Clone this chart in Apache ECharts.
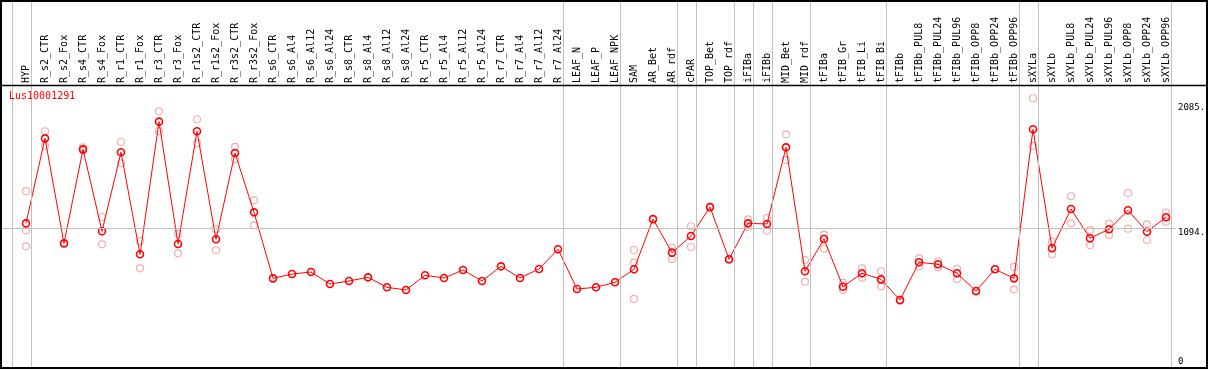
<!DOCTYPE html>
<html><head><meta charset="utf-8">
<script src="https://cdn.jsdelivr.net/npm/echarts@6.0.0/dist/echarts.min.js"></script>
<style>html,body{margin:0;padding:0;background:#fff}#c{width:1209px;height:370px}</style>
</head><body><div id="c"></div>
<script>
const chartTitle = 'Lus10001291';
const categories = ['HYP','R_s2_CTR','R_s2_Fox','R_s4_CTR','R_s4_Fox','R_r1_CTR','R_r1_Fox','R_r3_CTR','R_r3_Fox','R_r1s2_CTR','R_r1s2_Fox','R_r3s2_CTR','R_r3s2_Fox','R_s6_CTR','R_s6_Al4','R_s6_Al12','R_s6_Al24','R_s8_CTR','R_s8_Al4','R_s8_Al12','R_s8_Al24','R_r5_CTR','R_r5_Al4','R_r5_Al12','R_r5_Al24','R_r7_CTR','R_r7_Al4','R_r7_Al12','R_r7_Al24','LEAF_N','LEAF_P','LEAF_NPK','SAM','AR_Bet','AR_rdf','cPAR','TOP_Bet','TOP_rdf','iFIBa','iFIBb','MID_Bet','MID_rdf','tFIBa','tFIB_Gr','tFIB_Li','tFIB_Bi','tFIBb','tFIBb_PUL8','tFIBb_PUL24','tFIBb_PUL96','tFIBb_OPP8','tFIBb_OPP24','tFIBb_OPP96','sXYLa','sXYLb','sXYLb_PUL8','sXYLb_PUL24','sXYLb_PUL96','sXYLb_OPP8','sXYLb_OPP24','sXYLb_OPP96'];
const means = [1133,1805,975,1718,1070,1695,888,1937,970,1861,1007,1689,1220,698,732,748,653,677,706,627,606,722,701,764,677,793,701,772,928,614,627,667,770,1167,901,1033,1262,849,1133,1128,1734,754,1009,632,738,690,527,825,809,738,598,770,698,1877,936,1246,1015,1086,1236,1067,1181];
const replicates = [[1387,1078,951],[1861,1745],[975,968],[1734,1710],[1183,967],[1776,1608],[993,777],[2019,1861],[1049,896],[1956,1766],[1086,920],[1737,1640],[1315,1117],
  [],[],[],[],[],[],[],[],[],[],[],[],[],[],[],[],[],[],[],
  [922,822,535],[1167,1160],[940,849],[1110,946],[1262,1255],[849,845],[1165,1102],[1175,1075],[1837,1634],[843,672],[1041,932],[664,606],[777,703],[754,635],[527,520],[856,790],[833,785],[774,693],[598,592],[770],[788,611],[2122,1745],[988,888],[1347,1133],[1080,959],[1128,1041],[1373,1091],[1125,1001],[1217,1146]];
const groupEnds = [-1,0,28,31,34,35,37,38,39,41,45,52,53,60];
const yTickLabels = [0,1094,2085];
const yGridValue = 1094;

const FONT = 'DejaVu Sans Mono';
const chart = echarts.init(document.getElementById('c'));
const repPoints = [];
replicates.forEach((arr,i)=>arr.forEach(v=>repPoints.push([i,v])));
const meanPoints = means.map((v,i)=>[i,v]);
const xMin = -1.2632, xMax = 60.526;
const yMin = -11, yMax = 2899;
const yAxisBase = {type:'value', position:'right', min:yMin, max:yMax,
  axisLine:{show:false}, axisTick:{show:false}, splitLine:{show:false}};

chart.setOption({
  animation:false,
  textStyle:{fontFamily:FONT},
  title:{text:chartTitle, left:9, top:91, padding:0,
    textStyle:{color:'#ff0000', fontSize:10, fontWeight:'normal', fontFamily:FONT}},
  grid:{left:2, right:33, top:0, bottom:2},
  xAxis:{type:'value', position:'top', offset:-85, min:xMin, max:xMax,
    axisLine:{show:false}, axisTick:{show:false}, splitLine:{show:false},
    axisLabel:{customValues:categories.map((_,i)=>i), rotate:90, margin:2, fontSize:10,
      color:'#000', fontFamily:FONT, formatter:v=>categories[Math.round(v)]||''}},
  yAxis:[
    Object.assign({}, yAxisBase, {axisLabel:{customValues:yTickLabels.filter(v=>v>0), margin:2,
      verticalAlign:'top', fontSize:9, color:'#000', fontFamily:FONT, formatter:v=>v+'.'}}),
    Object.assign({}, yAxisBase, {axisLabel:{customValues:yTickLabels.filter(v=>v===0), margin:2,
      verticalAlign:'bottom', fontSize:9, color:'#000', fontFamily:FONT, formatter:v=>String(v)}})
  ],
  graphic:[
    {type:'rect', silent:true, z:100, shape:{x:1, y:1, width:1206, height:367},
      style:{fill:null, stroke:'#000', lineWidth:2}},
    {type:'line', silent:true, z:100, shape:{x1:1, y1:85.5, x2:1207, y2:85.5},
      style:{stroke:'#000', lineWidth:1.5}}
  ],
  series:[
    {type:'line', data:meanPoints, symbol:'none', lineStyle:{opacity:0}, silent:true, z:1,
      markLine:{symbol:'none', silent:true, label:{show:false}, emphasis:{disabled:true},
        lineStyle:{color:'#c0c0c0', width:1, type:'solid'},
        data:groupEnds.map(k=>({xAxis:k+0.25})).concat([{yAxis:yGridValue}])}},
    {type:'scatter', data:repPoints, symbol:'circle', symbolSize:7, z:2,
      itemStyle:{color:'rgba(255,255,255,0)', borderColor:'#f09a9a', borderWidth:1.2}},
    {type:'line', data:meanPoints, symbol:'circle', symbolSize:7, showAllSymbol:true, z:3,
      lineStyle:{color:'#ff0000', width:1},
      itemStyle:{color:'rgba(255,255,255,0)', borderColor:'#ff0000', borderWidth:1.6}}
  ]
});
</script></body></html>
